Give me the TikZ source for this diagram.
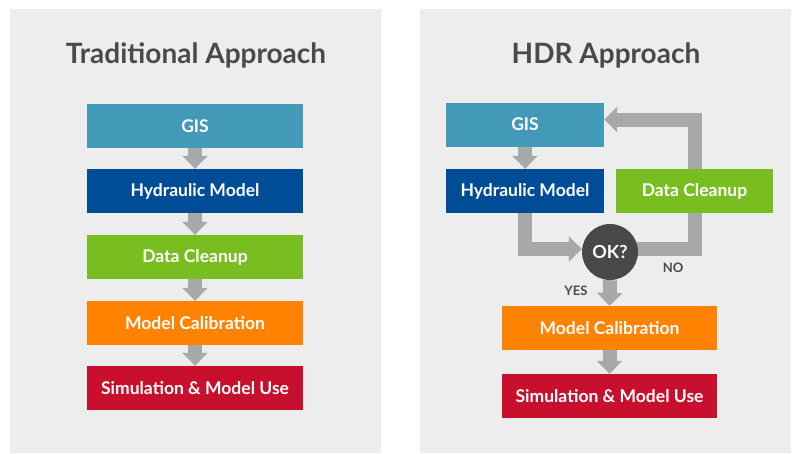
\documentclass[tikz,border=0pt]{standalone}
\usepackage{fontspec}
\setmainfont{Lato}
\usetikzlibrary{arrows.meta,backgrounds}
\definecolor{gisblue}{HTML}{4399B8}
\definecolor{hydblue}{HTML}{004C97}
\definecolor{cleangreen}{HTML}{78BE20}
\definecolor{calorange}{HTML}{FF8200}
\definecolor{simred}{HTML}{C8102E}
\definecolor{flowgray}{HTML}{A7A8AA}
\definecolor{panelgray}{HTML}{EDEDED}
\definecolor{titlegray}{HTML}{4A4A4A}
\definecolor{okgray}{HTML}{46484A}

\begin{document}
\begin{tikzpicture}[x=1pt, y=-1pt,
  box/.style={rectangle, minimum height=44pt, inner sep=0pt, text=white,
    font=\bfseries\fontsize{17.5}{20}\selectfont},
  flow/.style={draw=flowgray, line width=14pt, line join=miter,
    -{Triangle[width=25pt,length=13pt]}},
  flowline/.style={draw=flowgray, line width=14pt, line join=miter},
  title/.style={text=titlegray, font=\bfseries\fontsize{28}{32}\selectfont},
  tag/.style={text=titlegray, font=\bfseries\fontsize{13}{16}\selectfont}]
  \useasboundingbox (0,0) rectangle (797,453);
  \node[title] (ttrad) at (196,55) {Traditional Approach};
  \node[title] (thdr) at (606,55) {HDR Approach};
  % --- traditional chain ---
  \foreach \n/\c/\y/\t in {lgis/gisblue/126/GIS, lhyd/hydblue/191/Hydraulic Model,
      lclean/cleangreen/257/Data Cleanup, lcal/calorange/323/Model Calibration,
      lsim/simred/388/Simulation \& Model Use}
    \node[box, fill=\c, minimum width=216pt] (\n) at (195,\y) {\t};
  \foreach \a/\b in {lgis/lhyd, lhyd/lclean, lclean/lcal, lcal/lsim}
    \draw[flow] (\a.south) -- (\b.north);
  % --- HDR loop ---
  \node[box, fill=gisblue, minimum width=158pt] (rgis) at (525,124.5) {GIS};
  \node[box, fill=hydblue, minimum width=158pt] (rhyd) at (525,191) {Hydraulic Model};
  \node[box, fill=cleangreen, minimum width=157pt] (rclean) at (694.5,191) {Data Cleanup};
  \node[circle, fill=okgray, minimum size=56pt, inner sep=0pt, text=white,
    font=\bfseries\fontsize{18}{20}\selectfont] (ok) at (610,252) {OK?};
  \node[box, fill=calorange, minimum width=215pt] (rcal) at (609.5,328) {Model Calibration};
  \node[box, fill=simred, minimum width=215pt] (rsim) at (609.5,396) {Simulation \& Model Use};
  % --- panels and the NO line sit behind ---
  \begin{scope}[on background layer]
    \fill[white] (0,0) rectangle (797,453);
    \fill[panelgray] (10,9) rectangle (381,453);
    \fill[panelgray] (420,9) rectangle (791,453);
    \draw[flowline] ([yshift=3pt]ok.center) -| (rclean.south);
  \end{scope}
  \draw[flow] (rgis.south) -- (rhyd.north);
  \draw[flow] (rhyd.south) |- ([yshift=3pt]ok.west);
  \draw[flow] (rclean.north) |- ([yshift=5pt]rgis.east);
  \draw[flow] (ok.south) -- (rcal.north);
  \draw[flow] (rcal.south) -- (rsim.north);
  % --- answers ---
  \node[tag] (no) at (673,268) {NO};
  \node[tag] (yes) at (576,291) {YES};
\end{tikzpicture}
\end{document}
